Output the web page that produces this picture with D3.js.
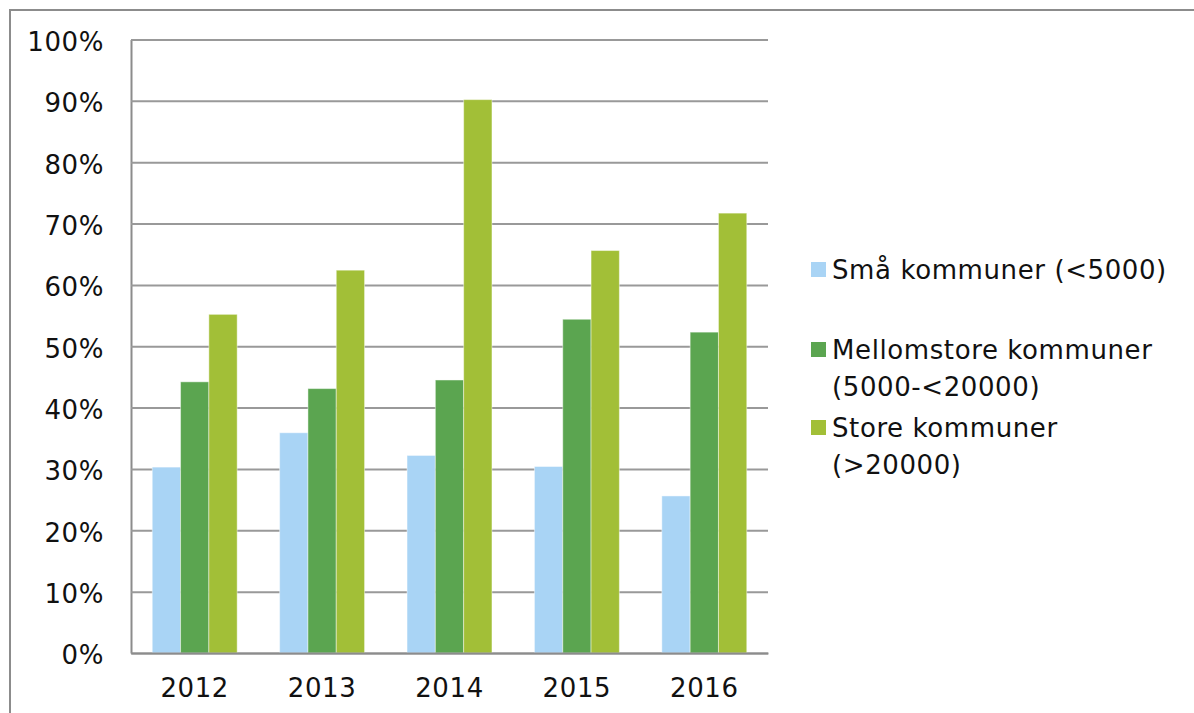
<!DOCTYPE html>
<html>
<head>
<meta charset="utf-8">
<script src="https://cdn.jsdelivr.net/npm/d3@7"></script>
<style>
  body { margin: 0; background: #fff; }
  svg text { font-family: Verdana, "DejaVu Sans", sans-serif; fill: #111; }
</style>
</head>
<body>
<svg id="chart" width="1194" height="713"></svg>
<script>
const years = ['2012', '2013', '2014', '2015', '2016'];
const seriesNames = ['Små kommuner (<5000)', 'Mellomstore kommuner (5000-<20000)', 'Store kommuner (>20000)'];
const legendLines = [['Små kommuner (<5000)'], ['Mellomstore kommuner', '(5000-<20000)'], ['Store kommuner', '(>20000)']];
const smaValues = [0.303, 0.359, 0.322, 0.304, 0.256];
const mellomValues = [0.442, 0.431, 0.445, 0.544, 0.523];
const storeValues = [0.552, 0.624, 0.902, 0.656, 0.717];
const yTicks = [0, 0.1, 0.2, 0.3, 0.4, 0.5, 0.6, 0.7, 0.8, 0.9, 1];
const colors = ['#a9d4f5', '#5ba550', '#a2bf37'];

document.addEventListener('DOMContentLoaded', function() {
  const svg = d3.select('#chart');
  const left = 131, right = 768, top = 39.5, bottom = 653;
  const fontSize = '26px';
  const spacing = '0.6px';

  // outer frame, cut off at the right and bottom like the original
  svg.append('path')
    .attr('d', 'M10,720 V10 H1200')
    .attr('fill', 'none')
    .attr('stroke', '#8c8c8c')
    .attr('stroke-width', 2);

  const x = d3.scaleBand()
    .domain(years)
    .range([left, right])
    .paddingInner(1 / 3)
    .paddingOuter(1 / 6);

  const xSub = d3.scaleBand()
    .domain(d3.range(3))
    .range([0, x.bandwidth()]);

  const y = d3.scaleLinear()
    .domain([0, 1])
    .range([bottom, top]);

  // gridlines + labels
  const yAxis = svg.append('g')
    .attr('transform', `translate(${left},0)`)
    .call(d3.axisLeft(y)
      .tickValues(yTicks)
      .tickFormat(d3.format('.0%'))
      .tickSizeInner(-(right - left))
      .tickSizeOuter(0)
      .tickPadding(27));
  yAxis.select('.domain').attr('stroke', '#8c8c8c').attr('stroke-width', 2);
  yAxis.selectAll('.tick line').attr('stroke', '#999').attr('stroke-width', 2);
  yAxis.selectAll('.tick text')
    .attr('dy', '0.42em')
    .style('font-size', fontSize)
    .style('letter-spacing', spacing)
    .attr('fill', '#111');

  const rows = [smaValues, mellomValues, storeValues];
  const data = [];
  years.forEach((yr, i) => {
    rows.forEach((vals, s) => data.push({ year: yr, s: s, v: vals[i] }));
  });

  svg.append('g').selectAll('rect')
    .data(data)
    .enter().append('rect')
    .attr('x', d => x(d.year) + xSub(d.s))
    .attr('y', d => y(d.v))
    .attr('width', xSub.bandwidth())
    .attr('height', d => bottom - y(d.v))
    .attr('fill', d => colors[d.s])
    .attr('stroke', '#fff')
    .attr('stroke-opacity', 0.45)
    .attr('stroke-width', 1);

  // x axis
  const xAxis = svg.append('g')
    .attr('transform', `translate(0,${bottom})`)
    .call(d3.axisBottom(x).tickSize(0).tickPadding(26));
  xAxis.select('.domain').attr('stroke', '#8c8c8c').attr('stroke-width', 2);
  xAxis.selectAll('.tick text')
    .style('font-size', fontSize)
    .style('letter-spacing', spacing)
    .attr('fill', '#111');

  // legend
  const legendTop = [279, 359, 437];
  const legend = svg.append('g');
  legendLines.forEach((lines, i) => {
    const g = legend.append('g');
    g.append('rect')
      .attr('x', 811)
      .attr('y', legendTop[i] - 17)
      .attr('width', 15)
      .attr('height', 15)
      .attr('fill', colors[i]);
    g.append('text')
      .style('font-size', fontSize)
      .style('letter-spacing', spacing)
      .selectAll('tspan')
      .data(lines)
      .enter().append('tspan')
      .attr('x', 832)
      .attr('y', (d, j) => legendTop[i] + j * 37)
      .text(d => d);
  });
});
</script>
</body>
</html>
